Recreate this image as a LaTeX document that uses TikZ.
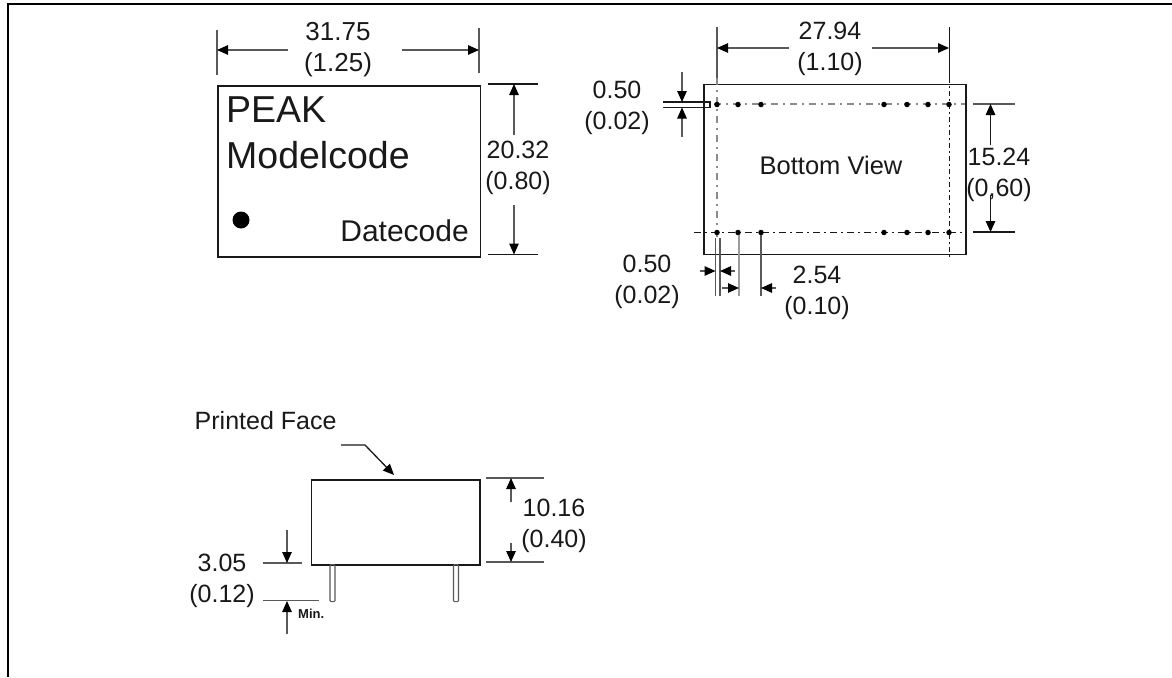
\documentclass[tikz,border=0pt]{standalone}
\usepackage{fontspec}
\setmainfont{Liberation Sans}
\usetikzlibrary{arrows.meta}
\definecolor{ink}{gray}{0.1}
\definecolor{thin}{gray}{0.35}
\tikzset{
  x=1pt,y=-1pt,
  outline/.style={draw=ink,line width=1.5pt},
  frameline/.style={draw=black,line width=2pt},
  dim/.style={draw=thin,line width=1.3pt},
  dimhead/.style={draw=thin,line width=1.3pt,-{Triangle[length=11pt,width=9.5pt,color=black]}},
  pin/.style={draw=thin,line width=1.2pt,rounded corners=1pt},
  center line/.style={draw=ink,line width=1.4pt,dash pattern=on 7pt off 4pt on 2pt off 4pt},
  center light/.style={draw=thin!70,line width=1.1pt,dash pattern=on 7pt off 5pt on 2pt off 5pt},
  hole/.style={circle,fill=black,inner sep=0pt,minimum size=5.5pt},
  lbl/.style={font=\fontsize{25pt}{31pt}\selectfont,align=center,inner sep=0pt,text=ink},
  big/.style={font=\fontsize{37.5pt}{40pt}\selectfont,anchor=base west,inner sep=0pt,text=ink},
}
\begin{document}
\begin{tikzpicture}
\useasboundingbox (0,0) rectangle (1172,677);
\fill[white] (0,0) rectangle (1172,677);
% outer frame
\coordinate (fbl) at (8,677); \coordinate (ftl) at (8,4);
\coordinate (ftr) at (1172,4);
\draw[frameline] (fbl) -- (ftl) -- (ftr);

% ---------- top view
\node[outline,minimum width=262.5pt,minimum height=171pt,inner sep=0pt,anchor=north west] (top) at (217,85) {};
\node[big] (peak) at (226,122) {PEAK};
\node[big] (model) at (226,168) {Modelcode};
\node[circle,fill=black,inner sep=0pt,minimum size=17pt] (dot) at (241,220) {};
\node[lbl,anchor=base east,font=\fontsize{30pt}{30pt}\selectfont] (date) at (469,241) {Datecode};
\coordinate (a1) at (217,30); \coordinate (a2) at (217,75);
\coordinate (b1) at (479,28); \coordinate (b2) at (479,73);
\draw[dim] (a1) -- (a2); \draw[dim] (b1) -- (b2);
\node[lbl,font=\fontsize{26pt}{31pt}\selectfont] (w) at (338,50) {31.75\\(1.25)};
\coordinate (wl) at (217,50); \coordinate (wr) at (479,50);
\coordinate (wlf) at (288,50); \coordinate (wrf) at (402,50);
\draw[dimhead] (wlf) -- (wl); \draw[dimhead] (wrf) -- (wr);
\coordinate (c1) at (488,84); \coordinate (c2) at (538,84);
\coordinate (d1) at (488,254.5); \coordinate (d2) at (538,254.5);
\draw[dim,draw=ink] (c1) -- (c2); \draw[dim,draw=ink] (d1) -- (d2);
\node[lbl] (h) at (518,167.5) {20.32\\(0.80)};
\coordinate (ht) at (514,84); \coordinate (hb) at (514,254.5);
\coordinate (htf) at (514,135); \coordinate (hbf) at (514,205);
\draw[dimhead] (htf) -- (ht); \draw[dimhead] (hbf) -- (hb);

% ---------- bottom view
\node[outline,minimum width=262pt,minimum height=170pt,inner sep=0pt,anchor=north west] (bot) at (703,83.5) {};
\node[lbl,font=\fontsize{25.5pt}{31pt}\selectfont] (bv) at (831,165) {Bottom View};
\coordinate (cl0) at (717,27); \coordinate (cl1) at (717,78); \coordinate (cl2) at (717,237);
\coordinate (cr0) at (949.5,27); \coordinate (cr1) at (949.5,78); \coordinate (cr2) at (949.5,258);
\coordinate (ct1) at (714,104); \coordinate (ct2) at (965,104);
\coordinate (cb1) at (694,232.5); \coordinate (cb2) at (965,232.5);
\draw[dim] (cl0) -- (cl1);
\draw[center light] (cl1) -- (cl2);
\draw[center line,dash pattern=on 5pt off 3pt on 2pt off 3pt] (cr1) -- (cr2);
\draw[center light] (ct1) -- (ct2);
\draw[center line] (cb1) -- (cb2);
\draw[ink,line width=1.6pt] (cr0) -- (cr1);
\foreach \x/\n in {717/a,738/b,761/c,884/d,907/e,928/f,949/g}{
  \node[hole] (t\n) at (\x,104.5) {};
  \node[hole] (u\n) at (\x,232.5) {};
}
\node[lbl] (wb) at (830,49) {27.94\\(1.10)};
\coordinate (wbl) at (717,48); \coordinate (wbr) at (949,48);
\coordinate (wblf) at (789,48); \coordinate (wbrf) at (872,48);
\draw[dimhead] (wblf) -- (wbl); \draw[dimhead] (wbrf) -- (wbr);
% pin, top left
\coordinate (p1) at (663,102); \coordinate (p2) at (710,102);
\coordinate (p3) at (663,107.5); \coordinate (p4) at (710,107.5);
\draw[dim,draw=ink] (p1) -- (p2) -- (p4) -- (p3);
\node[lbl] (pd) at (617,107.5) {0.50\\(0.02)};
\coordinate (pa1) at (682,72); \coordinate (pa2) at (682,102);
\coordinate (pa3) at (682,137); \coordinate (pa4) at (682,107.5);
\draw[dimhead] (pa1) -- (pa2); \draw[dimhead] (pa3) -- (pa4);
% right dim
\coordinate (q1) at (973,104); \coordinate (q2) at (1015,104);
\coordinate (r1) at (973,232); \coordinate (r2) at (1015,232);
\draw[dim] (q1) -- (q2); \draw[dim,draw=ink] (r1) -- (r2);
\node[lbl] (v) at (999,174.5) {15.24\\(0,60)};
\coordinate (vt) at (990.5,104); \coordinate (vb) at (990.5,232);
\coordinate (vtf) at (990.5,145); \coordinate (vbf) at (990.5,195);
\draw[dimhead,draw=ink] (vtf) -- (vt); \draw[dimhead,draw=ink] (vbf) -- (vb);
% bottom dims
\coordinate (e1) at (715.5,238); \coordinate (e2) at (715.5,296);
\coordinate (f1) at (720,238); \coordinate (f2) at (720,296);
\coordinate (g1) at (739,235); \coordinate (g2) at (739,296);
\coordinate (k1) at (761,235); \coordinate (k2) at (761,296);
\draw[dim] (e1) -- (e2); \draw[dim] (f1) -- (f2);
\draw[dim,draw=thin!60] (g1) -- (g2); \draw[dim] (k1) -- (k2);
\coordinate (m1) at (700,271); \coordinate (m2) at (715.5,271);
\coordinate (n1) at (735,271); \coordinate (n2) at (720,271);
\coordinate (o1) at (722,288); \coordinate (o2) at (739,288);
\coordinate (o3) at (776,288); \coordinate (o4) at (761,288);
\draw[dimhead] (m1) -- (m2); \draw[dimhead] (n1) -- (n2);
\draw[dimhead] (o1) -- (o2); \draw[dimhead] (o3) -- (o4);
\node[lbl] (d05) at (647,282) {0.50\\(0.02)};
\node[lbl] (d25) at (817,293) {2.54\\(0.10)};

% ---------- side view
\node[outline,minimum width=168.5pt,minimum height=85pt,inner sep=0pt,anchor=north west] (side) at (310.5,479) {};
\node[lbl,anchor=base west,font=\fontsize{25pt}{30pt}\selectfont] (pf) at (194.5,429) {Printed Face};
\coordinate (pfa) at (341,445); \coordinate (pfb) at (365,445); \coordinate (pfc) at (394,475);
\draw[dimhead,draw=ink] (pfa) -- (pfb) -- (pfc);
\node[pin,minimum width=5pt,minimum height=37pt,inner sep=0pt,anchor=north] (pinl) at (332.5,564) {};
\node[pin,minimum width=5pt,minimum height=37pt,inner sep=0pt,anchor=north] (pinr) at (456,564) {};
% 10.16
\coordinate (s1) at (486,478); \coordinate (s2) at (544,478);
\coordinate (t1) at (486,562); \coordinate (t2) at (544,562);
\draw[dim] (s1) -- (s2); \draw[dim] (t1) -- (t2);
\coordinate (sa) at (511,502); \coordinate (sb) at (511,478);
\coordinate (ta) at (511,543); \coordinate (tb) at (511,562);
\draw[dimhead] (sa) -- (sb); \draw[dimhead] (ta) -- (tb);
\node[lbl] (h2) at (554,525.5) {10.16\\(0.40)};
% 3.05
\coordinate (v1) at (263,563); \coordinate (v2) at (302,563);
\coordinate (w1) at (263,600.5); \coordinate (w2) at (319,600.5);
\draw[dim] (v1) -- (v2); \draw[dim] (w1) -- (w2);
\coordinate (va) at (287,530); \coordinate (vb2) at (287,563);
\coordinate (wa) at (287,634); \coordinate (wb2) at (287,601);
\draw[dimhead] (va) -- (vb2); \draw[dimhead] (wa) -- (wb2);
\node[lbl] (d3) at (222,581) {3.05\\(0.12)};
\node[lbl,anchor=west,font=\fontsize{13pt}{14pt}\bfseries\selectfont] (mn) at (298,614) {Min.};
\end{tikzpicture}
\end{document}
